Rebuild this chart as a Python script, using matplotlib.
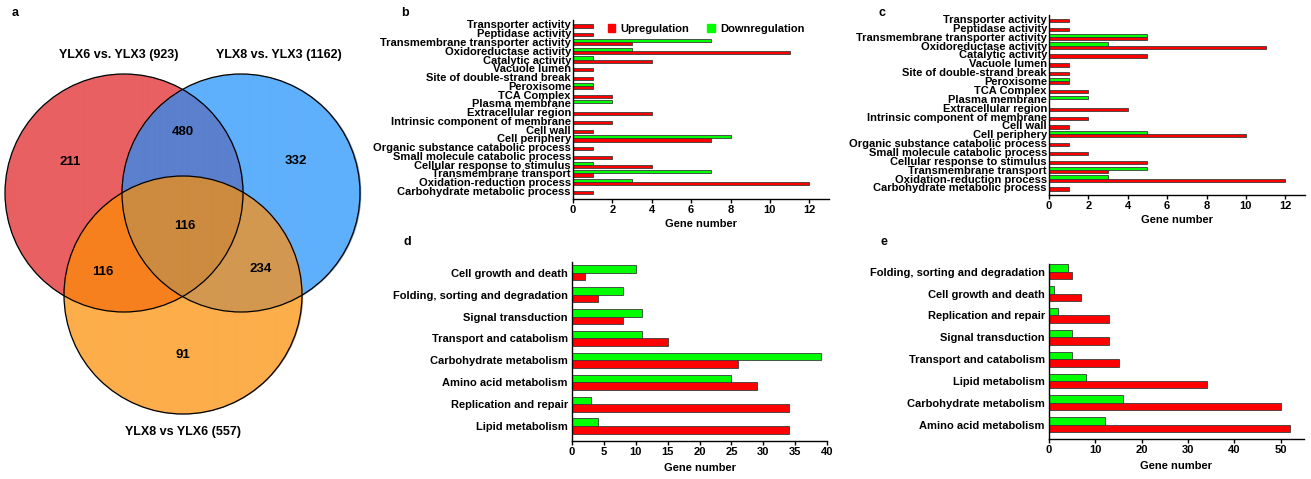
import numpy as np
import matplotlib
matplotlib.use("Agg")
import matplotlib.pyplot as plt
from matplotlib.patches import Circle, Patch
from matplotlib.colors import to_rgba

plt.rcParams["font.family"] = ["Liberation Sans", "DejaVu Sans"]
plt.rcParams["font.weight"] = "bold"
plt.rcParams["axes.labelweight"] = "bold"

# ---------------- data ----------------
venn_titles = ["YLX6 vs. YLX3 (923)", "YLX8 vs. YLX3 (1162)", "YLX8 vs YLX6 (557)"]
# region keys: membership in (set1, set2, set3)
venn_keys = ["100", "010", "001", "110", "101", "011", "111"]
venn_counts = [211, 332, 91, 480, 116, 234, 116]

go_terms = [
    "Transporter activity", "Peptidase activity", "Transmembrane transporter activity",
    "Oxidoreductase activity", "Catalytic activity", "Vacuole lumen",
    "Site of double-strand break", "Peroxisome", "TCA Complex", "Plasma membrane",
    "Extracellular region", "Intrinsic component of membrane", "Cell wall",
    "Cell periphery", "Organic substance catabolic process",
    "Small molecule catabolic process", "Cellular response to stimulus",
    "Transmembrane transport", "Oxidation-reduction process",
    "Carbohydrate metabolic process",
]
go_up_b = [1, 1, 3, 11, 4, 1, 1, 1, 2, 0, 4, 2, 1, 7, 1, 2, 4, 1, 12, 1]
go_down_b = [0, 0, 7, 3, 1, 0, 0, 1, 0, 2, 0, 0, 0, 8, 0, 0, 1, 7, 3, 0]
go_up_c = [1, 1, 5, 11, 5, 1, 1, 1, 2, 0, 4, 2, 1, 10, 1, 2, 5, 3, 12, 1]
go_down_c = [0, 0, 5, 3, 0, 0, 0, 1, 0, 2, 0, 0, 0, 5, 0, 0, 0, 5, 3, 0]

kegg_terms_d = [
    "Cell growth and death", "Folding, sorting and degradation", "Signal transduction",
    "Transport and catabolism", "Carbohydrate metabolism", "Amino acid metabolism",
    "Replication and repair", "Lipid metabolism",
]
kegg_up_d = [2, 4, 8, 15, 26, 29, 34, 34]
kegg_down_d = [10, 8, 11, 11, 39, 25, 3, 4]

kegg_terms_e = [
    "Folding, sorting and degradation", "Cell growth and death", "Replication and repair",
    "Signal transduction", "Transport and catabolism", "Lipid metabolism",
    "Carbohydrate metabolism", "Amino acid metabolism",
]
kegg_up_e = [5, 7, 13, 13, 15, 34, 50, 52]
kegg_down_e = [4, 1, 2, 5, 5, 8, 16, 12]

UP_COLOR = "#FF0000"
DOWN_COLOR = "#00FF00"
EDGE = "#3a3a3a"

W, H = 1311, 479
fig = plt.figure(figsize=(W / 100, H / 100), dpi=100)


def px_axes(left, top, right, bottom):
    return fig.add_axes([left / W, 1 - bottom / H, (right - left) / W, (bottom - top) / H])


def fig_text(x, y, s, **kw):
    fig.text(x / W, 1 - y / H, s, ha="center", va="center", fontweight="bold", **kw)


# ---------------- Venn diagram ----------------
axv = px_axes(0, 0, 420, 479)
axv.set_xlim(0, 420)
axv.set_ylim(479, 0)
axv.axis("off")

centers = [(124, 193), (241, 193), (183, 295)]
radius = 119
region_colors = {
    "100": "#E96062", "010": "#5FB0FC", "001": "#FDAE4B",
    "110": "#5B80CD", "101": "#F7801E", "011": "#D39850", "111": "#CD8B40",
}
xs = np.arange(0, 380, 0.25)
ys = np.arange(60, 430, 0.25)
gx, gy = np.meshgrid(xs, ys)
inside = [((gx - cx) ** 2 + (gy - cy) ** 2) <= radius ** 2 for cx, cy in centers]
img = np.zeros(gx.shape + (4,))
for key in venn_keys:
    m = np.ones(gx.shape, bool)
    for flag, ins in zip(key, inside):
        m &= ins if flag == "1" else ~ins
    img[m] = to_rgba(region_colors[key])
axv.imshow(img, extent=(xs[0], xs[-1] + 0.25, ys[-1] + 0.25, ys[0]),
           origin="upper", interpolation="bilinear", zorder=1)
for cx, cy in centers:
    axv.add_patch(Circle((cx, cy), radius, fill=False, ec="black", lw=0.9, zorder=2))

count_pos = {"100": (70, 162), "010": (296, 161), "001": (183, 355),
             "110": (183, 132), "101": (103, 272), "011": (261, 269), "111": (185, 226)}
for key, n in zip(venn_keys, venn_counts):
    x, y = count_pos[key]
    axv.text(x, y, str(n), ha="center", va="center", fontsize=9.5, fontweight="bold", zorder=3)

title_pos = [(119, 55), (279, 55), (183, 432)]
for t, (x, y) in zip(venn_titles, title_pos):
    axv.text(x, y, t, ha="center", va="center", fontsize=9, fontweight="bold")


# ---------------- bar panels ----------------
def bar_panel(ax, terms, up, down, h, ylim, xmax, xticks, ylab_pad=1.5, xlab_pad=3):
    y = np.arange(len(terms))
    ax.barh(y - h, down, height=h, align="edge", color=DOWN_COLOR, edgecolor=EDGE, lw=0.6)
    ax.barh(y, up, height=h, align="edge", color=UP_COLOR, edgecolor=EDGE, lw=0.6)
    ax.set_yticks(y)
    ax.set_yticklabels(terms, fontsize=8, fontweight="bold")
    ax.set_ylim(*ylim)
    ax.set_xlim(0, xmax)
    ax.set_xticks(xticks)
    ax.set_xticklabels([str(v) for v in xticks], fontsize=8, fontweight="bold")
    for s in ("top", "right"):
        ax.spines[s].set_visible(False)
    for s in ("left", "bottom"):
        ax.spines[s].set_linewidth(1.0)
    ax.tick_params(axis="y", length=0, pad=ylab_pad)
    ax.tick_params(axis="x", length=3, width=1, pad=1)
    ax.set_xlabel("Gene number", fontsize=8, fontweight="bold", labelpad=xlab_pad)


axb = px_axes(573, 20, 829, 199)
bar_panel(axb, go_terms, go_up_b, go_down_b, 0.36, (19.91, -0.51), 13, list(range(0, 13, 2)))
axc = px_axes(1049, 15, 1305, 195)
bar_panel(axc, go_terms, go_up_c, go_down_c, 0.36, (19.85, -0.45), 13, list(range(0, 13, 2)))
axd = px_axes(572, 262, 827, 441)
bar_panel(axd, kegg_terms_d, kegg_up_d, kegg_down_d, 0.35, (7.68, -0.49), 40,
          list(range(0, 41, 5)), 3, 4.5)
axe = px_axes(1049, 264, 1304, 439)
bar_panel(axe, kegg_terms_e, kegg_up_e, kegg_down_e, 0.34, (7.65, -0.35), 55,
          list(range(0, 51, 10)), 3, 4.5)

handles = [Patch(color=UP_COLOR, label="Upregulation"),
           Patch(color=DOWN_COLOR, label="Downregulation")]
fig.legend(handles=handles, loc="center left", bbox_to_anchor=(608 / W, 1 - 28.7 / H),
           ncol=2, frameon=False, fontsize=8, handlelength=0.65, handleheight=0.65,
           handletextpad=0.5, columnspacing=1.6, borderpad=0, borderaxespad=0)

for letter, (x, y) in zip("abcde", [(15, 13), (405, 13), (882, 13), (407, 242), (884, 242)]):
    fig_text(x, y, letter, fontsize=9)

fig.savefig("out.png", dpi=100)
